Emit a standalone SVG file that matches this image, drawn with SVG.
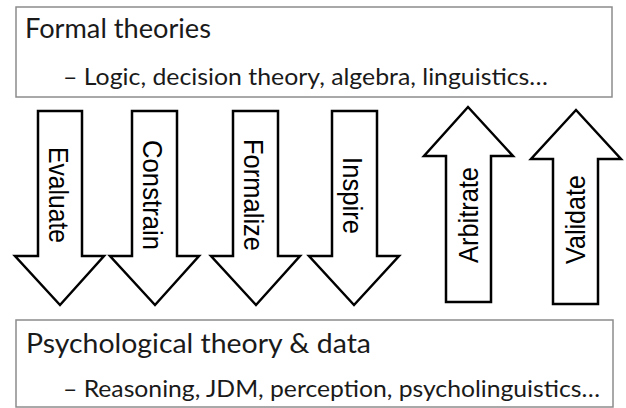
<svg xmlns="http://www.w3.org/2000/svg" width="626" height="408" viewBox="0 0 626 408">
<style>
.box{fill:#fff;stroke:#8c8c8c;stroke-width:1.5}
.title{font-family:Lato,"Open Sans",sans-serif;font-size:26px;fill:#1a1a1a}
.sub{font-family:Lato,"Open Sans",sans-serif;font-size:23.5px;fill:#1a1a1a}
.arrow{fill:#fff;stroke:#000;stroke-width:2.5;stroke-linejoin:miter}
.lbl{font-family:"Liberation Sans",Arial,sans-serif;font-size:28px;fill:#000;text-anchor:middle}
</style>
<rect width="626" height="408" fill="#fff"/>
<g id="formal-theories">
<rect class="box" x="16" y="7" width="596" height="90"/>
<text class="title" x="25" y="38" textLength="186" lengthAdjust="spacingAndGlyphs">Formal theories</text>
<text class="sub" x="63" y="85" textLength="485" lengthAdjust="spacingAndGlyphs">– Logic, decision theory, algebra, linguistics…</text>
</g>
<g id="psych-theory">
<rect class="box" x="16" y="320" width="597" height="87"/>
<text class="title" x="26" y="353" textLength="345" lengthAdjust="spacingAndGlyphs">Psychological theory &amp; data</text>
<text class="sub" x="63" y="397" textLength="537" lengthAdjust="spacingAndGlyphs">– Reasoning, JDM, perception, psycholinguistics…</text>
</g>
<g id="connectors">
<g id="evaluate">
<polygon class="arrow" points="38,111 82,111 82,256 104,256 60,305 15,256 38,256"/>
<text class="lbl" transform="translate(49,195) rotate(90)" textLength="96" lengthAdjust="spacingAndGlyphs">Evaluate</text>
</g>
<g id="constrain">
<polygon class="arrow" points="132,111 177,111 177,256 199,256 155,305 110,256 132,256"/>
<text class="lbl" transform="translate(143,195) rotate(90)" textLength="110" lengthAdjust="spacingAndGlyphs">Constrain</text>
</g>
<g id="formalize">
<polygon class="arrow" points="233,111 278,111 278,256 300,256 256,305 211,256 233,256"/>
<text class="lbl" transform="translate(244,195) rotate(90)" textLength="112" lengthAdjust="spacingAndGlyphs">Formalize</text>
</g>
<g id="inspire">
<polygon class="arrow" points="332,111 377,111 377,256 399,256 354,305 309,256 332,256"/>
<text class="lbl" transform="translate(343,195.5) rotate(90)" textLength="77" lengthAdjust="spacingAndGlyphs">Inspire</text>
</g>
<g id="arbitrate">
<polygon class="arrow" points="468,107 513,156 491,156 491,302 446,302 446,156 424,156"/>
<text class="lbl" transform="translate(478,215) rotate(-90)" textLength="96" lengthAdjust="spacingAndGlyphs">Arbitrate</text>
</g>
<g id="validate">
<polygon class="arrow" points="576,110 621,159 598,159 598,304 553,304 553,159 531,159"/>
<text class="lbl" transform="translate(585,219.5) rotate(-90)" textLength="89" lengthAdjust="spacingAndGlyphs">Validate</text>
</g>
</g>
</svg>
